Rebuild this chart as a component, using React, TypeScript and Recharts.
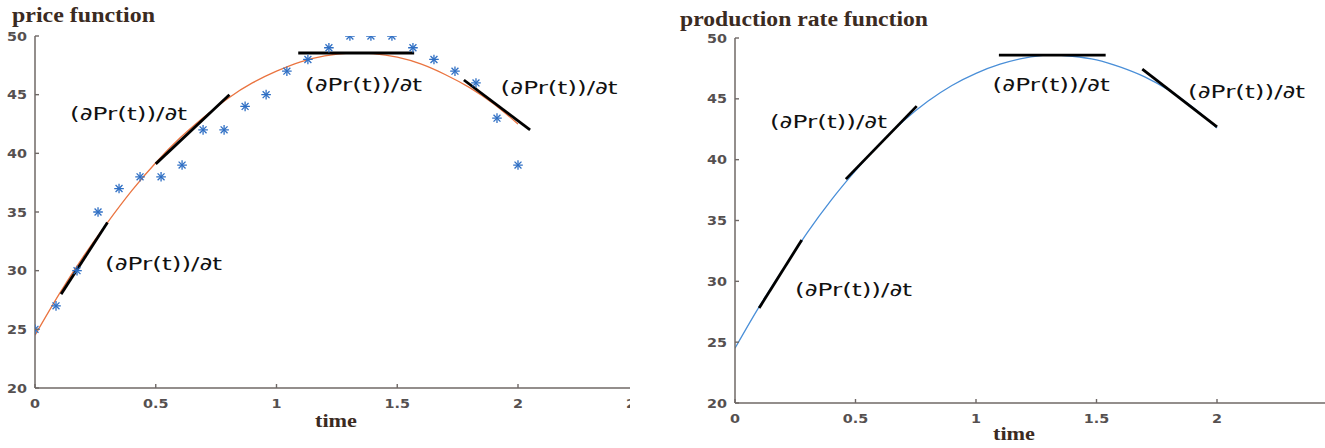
import React from 'react';
import { ComposedChart, Line, Scatter, XAxis, YAxis, ReferenceLine, ReferenceDot } from 'recharts';

// ---- data ----
const priceTimeTicks = [0, 0.5, 1, 1.5, 2, 2.5];
const productionTimeTicks = [0, 0.5, 1, 1.5, 2];
const valueTicks = [20, 25, 30, 35, 40, 45, 50];

const observedTimes = [0, 0.087, 0.174, 0.261, 0.348, 0.435, 0.522, 0.609, 0.696, 0.783, 0.87, 0.957, 1.043, 1.13, 1.217, 1.304, 1.391, 1.478, 1.565, 1.652, 1.739, 1.826, 1.913, 2.0];
const observedPrice = [25, 27, 30, 35, 37, 38, 38, 39, 42, 42, 44, 45, 47, 48, 49, 50, 50, 50, 49, 48, 47, 46, 43, 39];

const fitTimes = [0, 0.1, 0.2, 0.3, 0.4, 0.5, 0.6, 0.7, 0.8, 0.9, 1.0, 1.1, 1.2, 1.3, 1.4, 1.5, 1.6, 1.7, 1.8, 1.9, 2.0];
const priceFit = [24.5, 28.0, 31.2, 34.1, 36.8, 39.2, 41.3, 43.1, 44.7, 46.0, 47.0, 47.8, 48.3, 48.55, 48.5, 48.2, 47.6, 46.7, 45.6, 44.2, 42.5];
const productionFit = [24.5, 27.9, 31.0, 34.0, 36.7, 39.1, 41.3, 43.2, 44.8, 46.1, 47.1, 47.85, 48.35, 48.6, 48.5, 48.2, 47.6, 46.8, 45.7, 44.3, 42.6];

// tangent segments [t1, v1, t2, v2]
const priceTangents = [
  [0.108, 28.0, 0.3, 34.1],
  [0.5, 39.1, 0.805, 45.0],
  [1.09, 48.55, 1.57, 48.55],
  [1.776, 46.25, 2.05, 42.0],
];
const productionTangents = [
  [0.1, 27.8, 0.277, 33.4],
  [0.46, 38.4, 0.754, 44.4],
  [1.095, 48.6, 1.538, 48.6],
  [1.69, 47.45, 2.0, 42.7],
];

const derivativeLabel = '(∂Pr(t))/∂t';
const priceLabelAnchors = [
  [0.145, 42.84],
  [0.29, 30.06],
  [1.118, 45.31],
  [1.928, 45.06],
];
const productionLabelAnchors = [
  [0.145, 42.6],
  [0.249, 28.8],
  [1.069, 45.64],
  [1.88, 45.07],
];

const priceTitle = 'price function';
const productionTitle = 'production rate function';
const xAxisTitle = 'time';

// ---- build series ----
const observedData = observedTimes.map((t, i) => ({ x: t, y: observedPrice[i] }));
const priceFitData = fitTimes.map((t, i) => ({ x: t, y: priceFit[i] }));
const productionFitData = fitTimes.map((t, i) => ({ x: t, y: productionFit[i] }));

// ---- styles ----
const AXIS = '#6f6866';
const TICK_TEXT = '#555050';

const Star = (props: any) => {
  const { cx, cy } = props;
  if (cx == null || cy == null) return null;
  const r = 4.8;
  const d = r * 0.72;
  return (
    <g stroke="#2f6fc4" strokeWidth={1.3}>
      <line x1={cx - r} y1={cy} x2={cx + r} y2={cy} />
      <line x1={cx} y1={cy - r} x2={cx} y2={cy + r} />
      <line x1={cx - d} y1={cy - d} x2={cx + d} y2={cy + d} />
      <line x1={cx - d} y1={cy + d} x2={cx + d} y2={cy - d} />
    </g>
  );
};

const BottomTick = (props: any) => {
  const { x, y, payload } = props;
  return (
    <g>
      <line x1={x} y1={y} x2={x} y2={y - 4} stroke={AXIS} strokeWidth={1.4} />
      <text
        transform={`translate(${x},${y + 20}) scale(1.15,1)`}
        textAnchor="middle"
        fontFamily="DejaVu Sans"
        fontWeight="bold"
        fontSize={12.5}
        fill={TICK_TEXT}
      >
        {payload.value}
      </text>
    </g>
  );
};

const TopTick = (props: any) => {
  const { x, y } = props;
  return <line x1={x} y1={y} x2={x} y2={y + 4} stroke={AXIS} strokeWidth={1.4} />;
};

const LeftTick = (props: any) => {
  const { x, y, payload } = props;
  return (
    <g>
      <line x1={x} y1={y} x2={x + 4} y2={y} stroke={AXIS} strokeWidth={1.4} />
      <text
        transform={`translate(${x - 8},${y + 4.5}) scale(1.15,1)`}
        textAnchor="end"
        fontFamily="DejaVu Sans"
        fontWeight="bold"
        fontSize={12.5}
        fill={TICK_TEXT}
      >
        {payload.value}
      </text>
    </g>
  );
};

const makeAnnotation = (text: string) => (p: any) => (
  <text
    x={p.cx}
    y={p.cy}
    fontFamily="DejaVu Sans"
    fontSize={18}
    fill="#111"
    textLength={117}
    lengthAdjust="spacingAndGlyphs"
  >
    {text}
  </text>
);

type PanelProps = {
  width: number;
  marginTop: number;
  marginRight: number;
  yAxisWidth: number;
  xAxisHeight: number;
  ticks: number[];
  fit: { x: number; y: number }[];
  fitColor: string;
  tangents: number[][];
  labels: number[][];
  showObserved: boolean;
};

const Panel = (p: PanelProps) => (
  <ComposedChart
    width={p.width}
    height={448}
    margin={{ top: p.marginTop, right: p.marginRight, bottom: 0, left: 0 }}
  >
    <XAxis
      dataKey="x"
      type="number"
      domain={[0, 2.5]}
      ticks={p.ticks}
      interval={0}
      allowDataOverflow
      height={p.xAxisHeight}
      tickSize={0}
      tickMargin={0}
      tickLine={false}
      axisLine={{ stroke: AXIS, strokeWidth: 1.5 }}
      tick={<BottomTick />}
    />
    <XAxis
      xAxisId="top"
      orientation="top"
      type="number"
      domain={[0, 2.5]}
      ticks={p.ticks}
      interval={0}
      allowDataOverflow
      height={0}
      tickSize={0}
      tickMargin={0}
      tickLine={false}
      axisLine={{ stroke: AXIS, strokeWidth: 1.5 }}
      tick={<TopTick />}
    />
    <YAxis
      dataKey="y"
      type="number"
      domain={[20, 50]}
      ticks={valueTicks}
      interval={0}
      allowDataOverflow
      width={p.yAxisWidth}
      tickSize={0}
      tickMargin={0}
      tickLine={false}
      axisLine={{ stroke: AXIS, strokeWidth: 1.5 }}
      tick={<LeftTick />}
    />
    <Line
      data={p.fit}
      dataKey="y"
      type="natural"
      stroke={p.fitColor}
      strokeWidth={1.3}
      dot={false}
      activeDot={false}
      isAnimationActive={false}
    />
    {p.tangents.map((s, i) => (
      <ReferenceLine
        key={`t${i}`}
        segment={[{ x: s[0], y: s[1] }, { x: s[2], y: s[3] }]}
        stroke="#000"
        strokeWidth={2.8}
        ifOverflow="visible"
      />
    ))}
    {p.showObserved && (
      <Scatter data={observedData} dataKey="y" shape={Star} isAnimationActive={false} />
    )}
    {p.labels.map((a, i) => (
      <ReferenceDot
        key={`a${i}`}
        x={a[0]}
        y={a[1]}
        r={0}
        ifOverflow="visible"
        shape={makeAnnotation(derivativeLabel)}
      />
    ))}
  </ComposedChart>
);

export default function App() {
  return (
    <div
      style={{
        position: 'absolute',
        left: 0,
        top: 0,
        width: 1325,
        height: 448,
        background: '#fff',
        overflow: 'hidden',
      }}
    >
      <div style={{ position: 'absolute', left: 0, top: 0, width: 630, height: 448, overflow: 'hidden' }}>
        <Panel
          width={650}
          marginTop={36}
          marginRight={11.25}
          yAxisWidth={35}
          xAxisHeight={60}
          ticks={priceTimeTicks}
          fit={priceFitData}
          fitColor="#ea7440"
          tangents={priceTangents}
          labels={priceLabelAnchors}
          showObserved
        />
      </div>
      <div style={{ position: 'absolute', left: 660, top: 0, width: 665, height: 448, overflow: 'hidden' }}>
        <Panel
          width={690}
          marginTop={38}
          marginRight={12.5}
          yAxisWidth={75}
          xAxisHeight={45}
          ticks={productionTimeTicks}
          fit={productionFitData}
          fitColor="#4a8fd8"
          tangents={productionTangents}
          labels={productionLabelAnchors}
          showObserved={false}
        />
      </div>
      <svg
        width={1325}
        height={448}
        style={{ position: 'absolute', left: 0, top: 0, pointerEvents: 'none' }}
      >
        <g fontFamily="Liberation Serif" fontWeight="bold" fill="#3b2b22">
          <text x={12} y={22} fontSize={20} textLength={143} lengthAdjust="spacingAndGlyphs">
            {priceTitle}
          </text>
          <text x={680} y={26} fontSize={20} textLength={248} lengthAdjust="spacingAndGlyphs">
            {productionTitle}
          </text>
          <text x={315} y={427} fontSize={19} textLength={42} lengthAdjust="spacingAndGlyphs">
            {xAxisTitle}
          </text>
          <text x={993} y={440} fontSize={19} textLength={42} lengthAdjust="spacingAndGlyphs">
            {xAxisTitle}
          </text>
        </g>
      </svg>
    </div>
  );
}
